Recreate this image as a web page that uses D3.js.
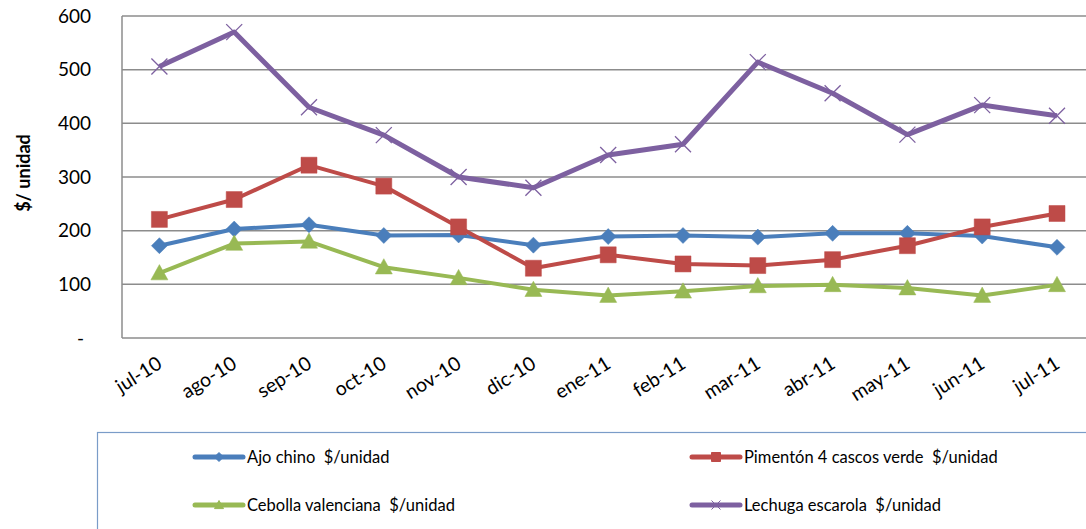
<!DOCTYPE html>
<html><head><meta charset="utf-8">
<script src="https://cdn.jsdelivr.net/npm/d3@7/dist/d3.min.js"></script>
<style>body{margin:0;background:#fff;overflow:hidden}svg{display:block}text{white-space:pre}</style>
</head><body>
<svg id="chart" width="1086" height="529"></svg>
<script>
const categories = ["jul-10","ago-10","sep-10","oct-10","nov-10","dic-10","ene-11","feb-11","mar-11","abr-11","may-11","jun-11","jul-11"];
const ajoChino   = [172,203,211,191,192,173,189,191,188,195,195,190,169];
const pimenton   = [221,258,322,283,207,130,155,138,135,146,172,207,232];
const cebolla    = [121,176,180,132,112,90,79,87,97,99,93,79,99];
const lechuga    = [506,570,430,378,300,280,341,361,514,456,379,434,414];
const seriesNames = ["Ajo chino  $/unidad","Pimentón 4 cascos verde  $/unidad","Cebolla valenciana  $/unidad","Lechuga escarola  $/unidad"];
const yTicks = [0,100,200,300,400,500,600];
const yTitle = "$/ unidad";

(function(){
const series = [
  {name: seriesNames[0], values: ajoChino, color: "#4a7ebb", marker: "diamond", width: 4},
  {name: seriesNames[1], values: pimenton, color: "#be4b48", marker: "square", width: 4},
  {name: seriesNames[2], values: cebolla,  color: "#98b954", marker: "triangle", width: 4},
  {name: seriesNames[3], values: lechuga,  color: "#7d60a0", marker: "x", width: 5}
];

const svg = d3.select("#chart");
const pLeft = 122, pTop = 16, pBottom = 338, bandW = 74.8;
const x = d3.scaleBand().domain(categories).range([pLeft, pLeft + bandW*categories.length]);
const y = d3.scaleLinear().domain([0,600]).range([pBottom, pTop]);
const font = "Lato, 'Open Sans', sans-serif";

svg.append("g").selectAll("line").data(yTicks.filter(d=>d>0)).join("line")
  .attr("x1", pLeft).attr("x2", 1090)
  .attr("y1", d=>y(d)).attr("y2", d=>y(d))
  .attr("stroke", "#8c8c8c").attr("stroke-width", 1.5);

svg.append("line").attr("x1", pLeft).attr("x2", pLeft).attr("y1", pTop).attr("y2", pBottom)
  .attr("stroke","#8c8c8c").attr("stroke-width",1.5);
svg.append("line").attr("x1", pLeft).attr("x2", 1090).attr("y1", pBottom).attr("y2", pBottom)
  .attr("stroke","#8c8c8c").attr("stroke-width",1.5);

svg.append("g").selectAll("text").data(yTicks).join("text")
  .attr("x", d => d===0 ? 84 : 91).attr("y", d=>y(d)).attr("dy","0.35em")
  .attr("text-anchor","end").attr("font-family",font).attr("font-size",19)
  .attr("fill","#000").text(d => d===0 ? "-" : d);

svg.append("text").attr("transform","translate(30,173) rotate(-90)")
  .attr("text-anchor","middle").attr("font-family",font).attr("font-size",18)
  .attr("font-weight","bold").text(yTitle);

svg.append("g").selectAll("text").data(categories).join("text")
  .attr("transform", d => `translate(${x(d)+x.bandwidth()/2+4},${367}) rotate(-32)`)
  .attr("text-anchor","end").attr("font-family",font).attr("font-size",19.5)
  .text(d=>d);

function markerPath(type, s) {
  const h = s/2;
  if (type === "diamond") return `M0,${-h}L${h},0L0,${h}L${-h},0Z`;
  if (type === "square") return `M${-h},${-h}H${h}V${h}H${-h}Z`;
  if (type === "triangle") return `M0,${-h}L${h},${h*0.8}L${-h},${h*0.8}Z`;
  return `M${-h},${-h}L${h},${h}M${-h},${h}L${h},${-h}`;
}

const line = d3.line().x((d,i)=>x(categories[i])+x.bandwidth()/2).y(d=>y(d));
series.forEach(s => {
  const g = svg.append("g");
  g.append("path").attr("d", line(s.values)).attr("fill","none")
    .attr("stroke", s.color).attr("stroke-width", s.width).attr("stroke-linejoin","round");
  const size = s.marker === "square" ? 16 : s.marker === "x" ? 16 : s.marker === "diamond" ? 16 : 17;
  g.selectAll("path.m").data(s.values).join("path").attr("class","m")
    .attr("transform",(d,i)=>`translate(${x(categories[i])+x.bandwidth()/2},${y(d)})`)
    .attr("d", markerPath(s.marker, size))
    .attr("fill", s.marker === "x" ? "none" : s.color)
    .attr("stroke", s.color).attr("stroke-width", s.marker === "x" ? 1.3 : 0.5);
});

svg.append("rect").attr("x",97.5).attr("y",432.5).attr("width",1100).attr("height",200)
  .attr("fill","none").attr("stroke","#7a9cc8").attr("stroke-width",1.2);
const legPos = [[193,457],[690,457],[193,505],[690,505]];
series.forEach((s,i) => {
  const [lx,ly] = legPos[i];
  svg.append("line").attr("x1",lx+2).attr("x2",lx+50).attr("y1",ly).attr("y2",ly)
    .attr("stroke",s.color).attr("stroke-width",5).attr("stroke-linecap","round");
  svg.append("path").attr("transform",`translate(${lx+26},${ly})`)
    .attr("d", markerPath(s.marker, 9))
    .attr("fill", s.marker === "x" ? "none" : s.color)
    .attr("stroke", s.color).attr("stroke-width", 1);
  svg.append("text").attr("x", lx+54).attr("y", ly).attr("dy","0.35em")
    .attr("font-family",font).attr("font-size",16.5)
    .text(s.name);
});
})();
</script>
</body></html>
